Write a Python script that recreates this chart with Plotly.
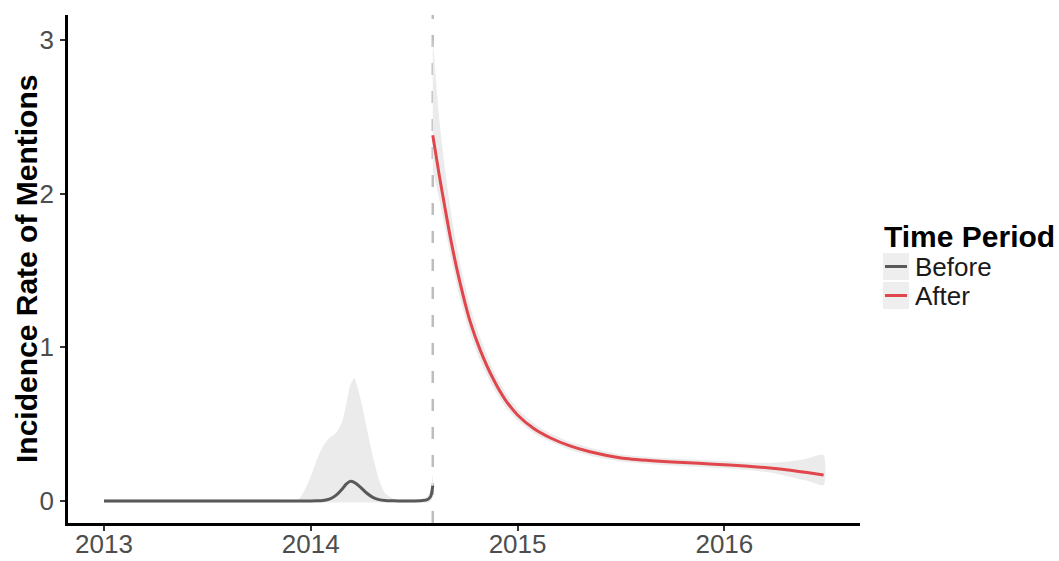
import plotly.graph_objects as go

# ---- data -------------------------------------------------------------
INTERVENTION = 2014.59

before_x = [2013.0, 2013.3, 2013.6, 2013.85, 2013.94, 2013.97, 2014.0, 2014.03,
            2014.06, 2014.09, 2014.12, 2014.15, 2014.17, 2014.19, 2014.21, 2014.23,
            2014.25, 2014.27, 2014.30, 2014.33, 2014.36, 2014.40, 2014.45, 2014.50,
            2014.54, 2014.565, 2014.58, 2014.59]
before_y = [0.0, 0.0, 0.0, 0.0, 0.0, 0.0, 0.0, 0.001,
            0.004, 0.012, 0.035, 0.075, 0.108, 0.128, 0.122, 0.102,
            0.078, 0.052, 0.024, 0.009, 0.003, 0.001, 0.0, 0.0,
            0.003, 0.01, 0.03, 0.10]
before_lo = [-0.01, -0.01, -0.01, -0.01, -0.01, -0.01, -0.01, -0.01,
             -0.01, -0.01, -0.01, -0.01, -0.01, -0.01, -0.01, -0.01,
             -0.01, -0.01, -0.01, -0.01, -0.01, -0.01, -0.01, -0.01,
             -0.01, -0.01, 0.0, 0.03]
before_hi = [0.01, 0.01, 0.01, 0.01, 0.012, 0.07, 0.16, 0.27,
             0.36, 0.41, 0.44, 0.51, 0.62, 0.75, 0.80, 0.72,
             0.61, 0.48, 0.29, 0.14, 0.05, 0.015, 0.01, 0.01,
             0.015, 0.03, 0.07, 0.17]

after_x = [2014.59, 2014.62, 2014.65, 2014.68, 2014.72, 2014.77, 2014.82, 2014.88,
           2014.94, 2015.0, 2015.08, 2015.16, 2015.25, 2015.35, 2015.50, 2015.65,
           2015.80, 2015.95, 2016.10, 2016.22, 2016.32, 2016.40, 2016.48]
after_y = [2.38, 2.13, 1.90, 1.68, 1.43, 1.17, 0.98, 0.80,
           0.66, 0.56, 0.47, 0.41, 0.36, 0.32, 0.28, 0.262,
           0.25, 0.24, 0.228, 0.215, 0.20, 0.185, 0.17]
after_lo = [2.15, 1.97, 1.77, 1.57, 1.33, 1.09, 0.91, 0.745,
            0.615, 0.525, 0.44, 0.385, 0.335, 0.295, 0.257, 0.239,
            0.227, 0.217, 0.204, 0.186, 0.157, 0.132, 0.104]
after_hi = [3.01, 2.50, 2.15, 1.86, 1.56, 1.27, 1.06, 0.86,
            0.71, 0.60, 0.505, 0.44, 0.387, 0.347, 0.303, 0.285,
            0.273, 0.263, 0.253, 0.248, 0.258, 0.275, 0.30]

x_ticks = [2013, 2014, 2015, 2016]
x_ticklabels = ["2013", "2014", "2015", "2016"]
y_ticks = [0, 1, 2, 3]
y_ticklabels = ["0", "1", "2", "3"]

series = [
    ("Before", before_x, before_y, before_lo, before_hi, "#595959"),
    ("After", after_x, after_y, after_lo, after_hi, "#e0464c"),
]

RIBBON = "#ebebeb"
FONT = "Liberation Sans, Arial, Helvetica, sans-serif"

# ---- figure -----------------------------------------------------------
W, H = 1059, 561
M_L, M_R, M_T, M_B = 68, 199, 15, 38
plot_w = W - M_L - M_R
plot_h = H - M_T - M_B


def px_x(px):
    return (px - M_L) / plot_w


def px_y(py):
    return (H - M_B - py) / plot_h


fig = go.Figure()

for name, xs, ys, lo, hi, col in series:
    fig.add_trace(go.Scatter(
        x=xs + xs[::-1], y=hi + lo[::-1], fill="toself", fillcolor=RIBBON,
        mode="lines", line=dict(width=0, shape="spline", smoothing=0.6),
        hoverinfo="skip", showlegend=False))

fig.add_vline(x=INTERVENTION, line=dict(color="#bdbdbd", width=2.5, dash="12px,16px"),
              layer="below")

for name, xs, ys, lo, hi, col in series:
    fig.add_trace(go.Scatter(
        x=xs, y=ys, mode="lines", name=name,
        line=dict(color=col, width=3, shape="spline", smoothing=0.6),
        showlegend=False))

# legend drawn in ggplot style: grey key boxes with a short line
fig.add_annotation(xref="paper", yref="paper", x=px_x(882), y=px_y(236),
                   xanchor="left", yanchor="middle", showarrow=False,
                   text="<b>Time Period</b>",
                   font=dict(family=FONT, size=30, color="#000000"))
key_tops = [253, 282]
for (name, xs, ys, lo, hi, col), top in zip(series, key_tops):
    fig.add_shape(type="rect", xref="paper", yref="paper",
                  x0=px_x(883), x1=px_x(909), y0=px_y(top + 27), y1=px_y(top),
                  fillcolor="#eeeeee", line=dict(width=0))
    fig.add_shape(type="line", xref="paper", yref="paper",
                  x0=px_x(885), x1=px_x(907), y0=px_y(top + 13.5), y1=px_y(top + 13.5),
                  line=dict(color=col, width=3))
    fig.add_annotation(xref="paper", yref="paper", x=px_x(913), y=px_y(top + 14),
                       xanchor="left", yanchor="middle", showarrow=False,
                       text=name, font=dict(family=FONT, size=26, color="#1a1a1a"))

# y axis title
fig.add_annotation(xref="paper", yref="paper", x=px_x(26), y=0.5,
                   xanchor="center", yanchor="middle", showarrow=False,
                   textangle=-90, text="<b>Incidence Rate of Mentions</b>",
                   font=dict(family=FONT, size=30, color="#000000"))

axis_common = dict(
    showgrid=False, zeroline=False, showline=True, linecolor="#000000", linewidth=2.5,
    ticks="outside", ticklen=5, tickwidth=2, tickcolor="#333333", automargin=False,
    tickfont=dict(family=FONT, size=26, color="#4d4d4d"),
)

fig.update_layout(
    width=W, height=H,
    margin=dict(l=M_L, r=M_R, t=M_T, b=M_B, pad=0, autoexpand=False),
    paper_bgcolor="white", plot_bgcolor="white",
    showlegend=False,
    xaxis=dict(range=[2012.826, 2016.656], tickvals=x_ticks, ticktext=x_ticklabels,
               ticklabelstandoff=-9, **axis_common),
    yaxis=dict(range=[-0.143, 3.162], tickvals=y_ticks, ticktext=y_ticklabels,
               ticklabelstandoff=1, **axis_common),
)

fig.write_html("out.html")
